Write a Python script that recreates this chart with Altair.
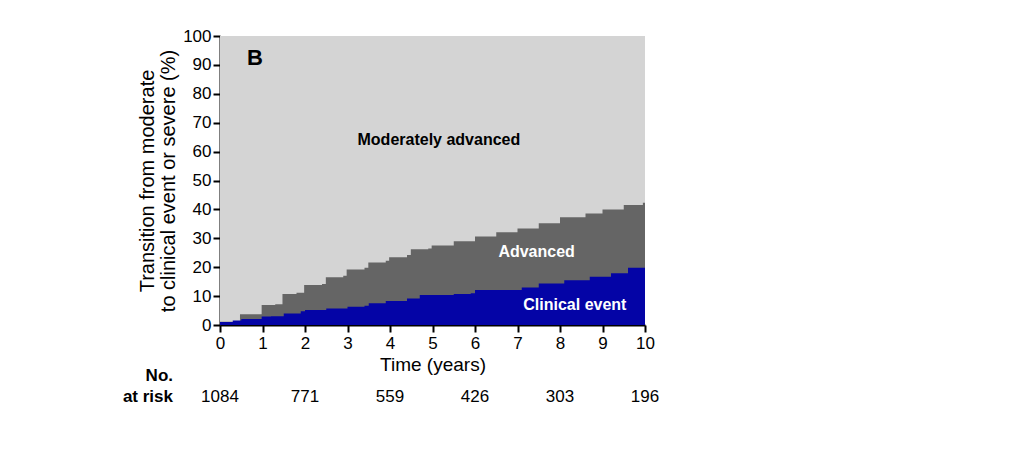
import altair as alt
import pandas as pd

# Advanced (cumulative upper boundary) step curve
adv_t = [0, 0.47, 0.98, 1.3, 1.47, 1.8, 1.98, 2.4, 2.49, 2.9, 2.98, 3.4, 3.49, 3.9, 3.98,
         4.4, 4.49, 4.9, 4.98, 5.5, 6.0, 6.5, 7.0, 7.5, 8.0, 8.6, 9.0, 9.5, 9.95, 10]
adv_v = [1.1, 3.7, 6.9, 7.2, 10.7, 11.2, 13.8, 14.2, 16.5, 17.0, 19.2, 19.8, 21.6, 22.2, 23.4,
         24.2, 26.2, 26.5, 27.5, 29.0, 30.6, 32.1, 33.4, 35.2, 37.3, 38.6, 40.0, 41.5, 42.3, 43.6]

# Clinical event step curve
ce_t = [0, 0.3, 0.5, 0.98, 1.2, 1.5, 1.9, 2.0, 2.5, 3.0, 3.4, 3.5, 3.9, 4.4, 4.7,
        5.5, 5.9, 6.0, 7.1, 7.5, 8.1, 8.7, 9.2, 9.6, 10]
ce_v = [1.0, 1.6, 2.1, 2.9, 3.0, 4.0, 4.8, 5.2, 5.7, 6.3, 6.7, 7.5, 8.3, 9.2, 10.4,
        10.7, 11.0, 12.1, 13.0, 14.4, 15.5, 16.7, 17.9, 19.8, 20.2]

risk_t = [0, 2, 4, 6, 8, 10]
risk_n = ["1084", "771", "559", "426", "303", "196"]

labels = ["Moderately advanced", "Advanced", "Clinical event"]
label_x = [5.15, 7.45, 8.35]
label_y = [64, 25.3, 7]
label_col = ["black", "white", "white"]

x_ticks = list(range(0, 11))
y_ticks = list(range(0, 101, 10))

adv = pd.DataFrame({"t": adv_t, "v": adv_v})
ce = pd.DataFrame({"t": ce_t, "v": ce_v})
risk = pd.DataFrame({"t": risk_t, "n": risk_n})
lab = pd.DataFrame({"txt": labels, "x": label_x, "y": label_y, "c": label_col})
bg = pd.DataFrame({"x0": [0], "x1": [10], "y0": [0], "y1": [100]})

FONT = "Liberation Sans"

xs = alt.Scale(domain=[0, 10], nice=False)
ys = alt.Scale(domain=[0, 100], nice=False)

xaxis = alt.Axis(values=x_ticks, title="Time (years)", labelFontSize=17,
                 titleFontSize=19, titleFontWeight="normal", labelColor="black",
                 titleColor="black", domainColor="black", domainWidth=2,
                 tickColor="black", tickWidth=2, tickSize=7, labelPadding=3,
                 titlePadding=4, grid=False, labelFont=FONT, titleFont=FONT,
                 labelOverlap=False, labelFlush=False)
yaxis = alt.Axis(values=y_ticks,
                 title=["Transition from moderate", "to clinical event or severe (%)"],
                 labelFontSize=17, titleFontSize=20, titleFontWeight="normal",
                 titleLineHeight=21,
                 labelColor="black", titleColor="black", domainColor="black",
                 domainWidth=2, tickColor="black", tickWidth=2, tickSize=7,
                 labelPadding=2, titlePadding=4, grid=False, labelFont=FONT,
                 titleFont=FONT, labelOverlap=False, labelFlush=False)

bg_rect = alt.Chart(bg).mark_rect(color="#d4d4d4").encode(
    x=alt.X("x0:Q", scale=xs, axis=xaxis), x2="x1:Q",
    y=alt.Y("y0:Q", scale=ys, axis=yaxis), y2="y1:Q",
)
adv_area = alt.Chart(adv).mark_area(interpolate="step-after", color="#656565").encode(
    x=alt.X("t:Q", scale=xs, axis=xaxis),
    y=alt.Y("v:Q", scale=ys, axis=yaxis),
)
ce_area = alt.Chart(ce).mark_area(interpolate="step-after", color="#0404a6").encode(
    x=alt.X("t:Q", scale=xs, axis=xaxis),
    y=alt.Y("v:Q", scale=ys, axis=yaxis),
)
text = alt.Chart(lab).mark_text(fontWeight="bold", fontSize=16, font=FONT).encode(
    x=alt.X("x:Q", scale=xs, axis=xaxis),
    y=alt.Y("y:Q", scale=ys, axis=yaxis),
    text="txt:N",
    color=alt.Color("c:N", scale=None),
)
btxt = alt.Chart(pd.DataFrame({"t": ["B"]})).mark_text(
    fontWeight="bold", fontSize=22, font=FONT, color="black").encode(
    x=alt.value(35), y=alt.value(22), text="t:N")
risk_txt = alt.Chart(risk).mark_text(fontSize=17, font=FONT, color="black").encode(
    x=alt.X("t:Q", scale=xs, axis=xaxis), y=alt.value(361), text="n:N")
risk_lab = alt.Chart(pd.DataFrame({"t": ["No.", "at risk"], "yy": [340, 361]})).mark_text(
    fontSize=17, fontWeight="bold", font=FONT, color="black", align="right").encode(
    x=alt.value(-47), y=alt.Y("yy:Q", scale=None, axis=None), text="t:N")

chart = alt.layer(bg_rect, adv_area, ce_area, text, btxt, risk_txt, risk_lab).properties(
    width=425, height=289,
    autosize=alt.AutoSizeParams(type="none"),
    padding={"left": 212, "top": 28, "right": 370, "bottom": 110},
    background="white",
).configure_view(stroke="transparent", strokeWidth=0)

chart.save("out.html", embed_options={"renderer": "svg", "actions": False})
